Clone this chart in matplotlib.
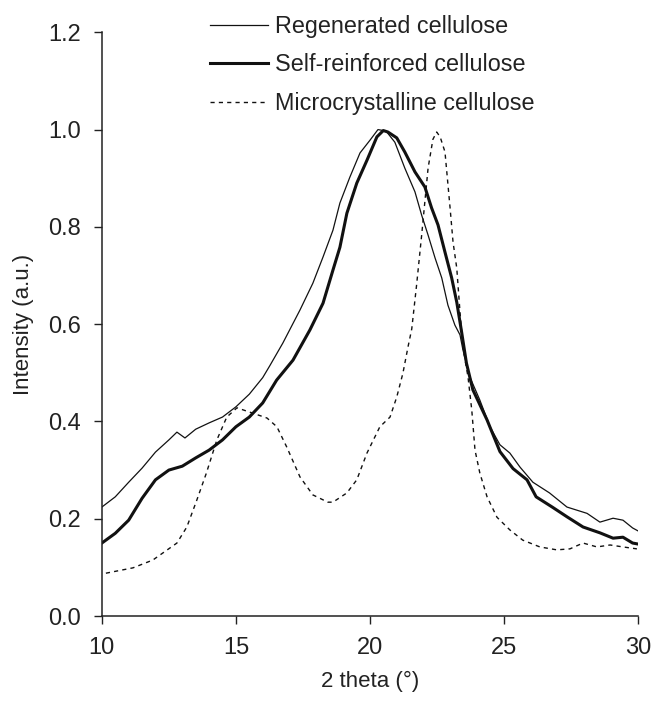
import matplotlib
matplotlib.use("Agg")
import matplotlib.pyplot as plt

plt.rcParams['font.family'] = ['Liberation Sans', 'DejaVu Sans']

# Regenerated cellulose (thin solid)
regen_x = [10.0, 10.5, 11.0, 11.5, 12.0, 12.5, 12.8, 13.1, 13.5, 14.0, 14.5, 15.0, 15.5, 16.0,
           16.27, 16.75, 17.39, 17.87, 18.25, 18.62, 18.88, 19.25, 19.63, 20.0, 20.3, 20.6,
           20.93, 21.3, 21.68, 21.93, 22.17, 22.43, 22.68, 22.91, 23.17, 23.36, 23.47, 23.73,
           24.1, 24.48, 24.85, 25.22, 25.6, 26.08, 26.7, 27.35, 28.1, 28.58, 29.07, 29.44,
           29.8, 30.0]
regen_y = [0.224, 0.245, 0.275, 0.304, 0.337, 0.362, 0.378, 0.366, 0.384, 0.397, 0.409, 0.43,
           0.456, 0.49, 0.515, 0.561, 0.629, 0.684, 0.738, 0.793, 0.849, 0.902, 0.952, 0.978,
           1.0, 0.997, 0.974, 0.921, 0.872, 0.824, 0.783, 0.736, 0.695, 0.639, 0.598, 0.578,
           0.547, 0.491, 0.444, 0.389, 0.352, 0.335, 0.306, 0.275, 0.253, 0.224, 0.211, 0.193,
           0.201, 0.197, 0.181, 0.175]

# Self-reinforced cellulose (thick solid)
srein_x = [10.0, 10.5, 11.0, 11.5, 12.0, 12.5, 13.0, 13.5, 14.0, 14.5, 15.0, 15.5, 16.0,
           16.52, 17.13, 17.76, 18.25, 18.62, 18.88, 19.14, 19.51, 19.89, 20.26, 20.5, 20.67,
           21.0, 21.3, 21.68, 22.05, 22.3, 22.54, 22.8, 23.05, 23.24, 23.42, 23.6, 23.84,
           24.37, 24.85, 25.34, 25.86, 26.2, 26.8, 27.35, 27.95, 28.58, 29.07, 29.44, 29.8,
           30.0]
srein_y = [0.15, 0.17, 0.197, 0.242, 0.28, 0.30, 0.308, 0.325, 0.341, 0.362, 0.389, 0.409,
           0.438, 0.485, 0.526, 0.588, 0.643, 0.711, 0.758, 0.828, 0.89, 0.937, 0.985, 0.998,
           0.995, 0.983, 0.954, 0.913, 0.882, 0.839, 0.804, 0.748, 0.695, 0.645, 0.584, 0.52,
           0.465, 0.403, 0.338, 0.303, 0.28, 0.245, 0.224, 0.204, 0.183, 0.171, 0.16, 0.162,
           0.15, 0.148]

# Microcrystalline cellulose (dashed)
micro_x = [10.15, 11.16, 11.9, 12.8, 13.17, 13.54, 13.9, 14.29, 14.66, 15.04, 15.63, 16.16,
           16.53, 16.9, 17.39, 17.87, 18.43, 18.62, 19.14, 19.51, 19.89, 20.37, 20.75, 21.0,
           21.23, 21.42, 21.56, 21.74, 21.93, 22.17, 22.35, 22.49, 22.62, 22.8, 22.99, 23.1,
           23.24, 23.36, 23.47, 23.66, 23.8, 23.92, 24.1, 24.37, 24.74, 25.22, 25.7, 26.34,
           26.97, 27.46, 27.95, 28.47, 28.96, 29.44, 29.96]
micro_y = [0.088, 0.099, 0.115, 0.15, 0.183, 0.238, 0.294, 0.362, 0.409, 0.428, 0.417, 0.407,
           0.389, 0.347, 0.286, 0.249, 0.234, 0.234, 0.253, 0.28, 0.335, 0.389, 0.409, 0.45,
           0.499, 0.553, 0.59, 0.68, 0.783, 0.921, 0.98, 0.995, 0.985, 0.954, 0.839, 0.769,
           0.715, 0.625, 0.553, 0.491, 0.423, 0.341, 0.294, 0.245, 0.203, 0.177, 0.156, 0.142,
           0.136, 0.138, 0.15, 0.142, 0.146, 0.142, 0.138]

labels = ["Regenerated cellulose", "Self-reinforced cellulose", "Microcrystalline cellulose"]
x_ticks = [10, 15, 20, 25, 30]
y_ticks = [0.0, 0.2, 0.4, 0.6, 0.8, 1.0, 1.2]
y_ticklabels = ["0.0", "0.2", "0.4", "0.6", "0.8", "1.0", "1.2"]

fig = plt.figure(figsize=(6.53, 7.02), dpi=100)
ax = fig.add_axes([0.156, 0.1225, 0.821, 0.8315])

col = '#111111'
ax.plot(regen_x, regen_y, color=col, lw=0.9, label=labels[0])
ax.plot(srein_x, srein_y, color=col, lw=2.2, label=labels[1])
ax.plot(micro_x, micro_y, color=col, lw=1.0, linestyle=(0, (3, 3)), label=labels[2])

ax.set_xlim(10, 30)
ax.set_ylim(0, 1.2)
ax.set_xticks(x_ticks)
ax.set_yticks(y_ticks)
ax.set_yticklabels(y_ticklabels)
for s in ['top', 'right']:
    ax.spines[s].set_visible(False)
for s in ['left', 'bottom']:
    ax.spines[s].set_linewidth(1.1)
    ax.spines[s].set_color('#222222')
ax.tick_params(direction='out', length=6, width=1.0, labelsize=17, color='#222222',
               labelcolor='#222222')
ax.tick_params(axis='y', pad=9)
ax.tick_params(axis='x', pad=9)

ax.set_xlabel("2 theta (°)", fontsize=16, color='#222222', labelpad=9)
ax.set_ylabel("Intensity (a.u.)", fontsize=16, color='#222222', labelpad=10)

leg = fig.legend(loc='upper left', bbox_to_anchor=(210 / 653, 1 - 15 / 702),
                 frameon=False, fontsize=16.8, handlelength=2.5, handletextpad=0.3,
                 labelspacing=0.66, borderpad=0, borderaxespad=0)
for t in leg.get_texts():
    t.set_color('#222222')

fig.savefig("out.png", dpi=100)
